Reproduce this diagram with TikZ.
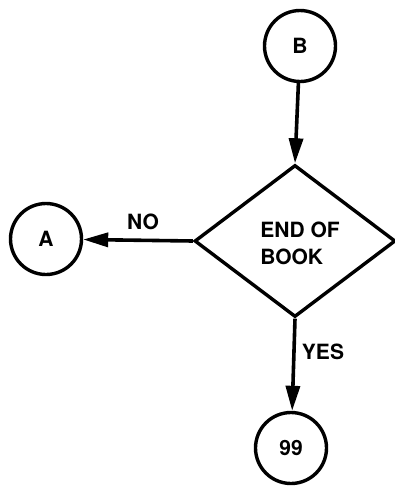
\documentclass[tikz,border=0pt]{standalone}
\usepackage{fontspec}
\setmainfont{TeX Gyre Heros}
\usetikzlibrary{shapes.geometric,arrows.meta}
\begin{document}
\begin{tikzpicture}[x=1pt,y=-1pt,
  txt/.style={font=\fontsize{21}{27}\selectfont\bfseries},
  connector/.style={circle,draw,line width=3.4pt,minimum size=71pt,inner sep=0pt,txt},
  decision/.style={diamond,draw,line width=3.4pt,minimum width=201pt,minimum height=152pt,
    inner sep=0pt},
  flow/.style={line width=3.6pt,-{Triangle[length=25pt,width=14pt]}},
  lbl/.style={txt,inner sep=0pt}]
\useasboundingbox (0,0) rectangle (395,493);
\node[connector] (B) at (300,46) {B};
\node[decision] (D) at (295,241) {};
\node[txt,align=left,inner sep=0pt] (Dtext) at (300,243) {END OF\\BOOK};
\node[connector] (A) at (46,239) {A};
\node[connector] (E) at (291,448) {99};
\draw[flow] (B) -- (D.north);
\draw[flow] (D.west) -- (A);
\draw[flow] (D.south) -- (E);
\node[lbl] (no) at (143,222) {NO};
\node[lbl] (yes) at (323,352) {YES};
\end{tikzpicture}
\end{document}
